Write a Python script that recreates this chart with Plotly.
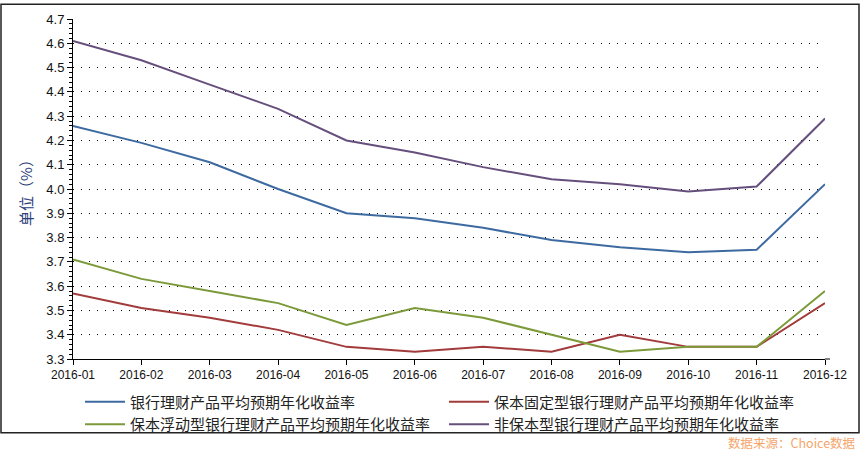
import plotly.graph_objects as go

months = ["2016-01", "2016-02", "2016-03", "2016-04", "2016-05", "2016-06",
          "2016-07", "2016-08", "2016-09", "2016-10", "2016-11", "2016-12"]
bank_avg = [4.26, 4.19, 4.11, 4.00, 3.90, 3.88, 3.84, 3.79, 3.76, 3.74, 3.75, 4.02]
fixed_guar = [3.57, 3.51, 3.47, 3.42, 3.35, 3.33, 3.35, 3.33, 3.40, 3.35, 3.35, 3.53]
float_guar = [3.71, 3.63, 3.58, 3.53, 3.44, 3.51, 3.47, 3.40, 3.33, 3.35, 3.35, 3.58]
non_guar = [4.61, 4.53, 4.43, 4.33, 4.20, 4.15, 4.09, 4.04, 4.02, 3.99, 4.01, 4.29]

names = ["银行理财产品平均预期年化收益率", "保本固定型银行理财产品平均预期年化收益率",
         "保本浮动型银行理财产品平均预期年化收益率", "非保本型银行理财产品平均预期年化收益率"]
colors = ["#3d6aa0", "#a23b3b", "#7c9a3a", "#674f7d"]
series = [bank_avg, fixed_guar, float_guar, non_guar]
legends = ["legend", "legend2", "legend", "legend2"]

W, H = 862, 453
L, R, T, B = 73, 37, 16, 91
pw, ph = W - L - R, H - T - B

fig = go.Figure()
for nm, c, s, lg in zip(names, colors, series, legends):
    fig.add_trace(go.Scatter(x=months, y=s, name=nm, mode="lines",
                             line=dict(color=c, width=2), legend=lg))

def px(x):
    return (x - L) / pw

def py(y):
    return (H - B - y) / ph

legfont = dict(family="Noto Sans CJK SC", size=15, color="#222")
fig.update_layout(
    width=W, height=H,
    margin=dict(l=L, r=R, t=T, b=B),
    paper_bgcolor="white", plot_bgcolor="white",
    font=dict(family="Liberation Sans", size=12, color="#111"),
    legend=dict(x=px(80), y=py(389), xanchor="left", yanchor="top",
                font=legfont, bgcolor="rgba(0,0,0,0)", tracegroupgap=0,
                itemwidth=40, orientation="v"),
    legend2=dict(x=px(444), y=py(389), xanchor="left", yanchor="top",
                 font=legfont, bgcolor="rgba(0,0,0,0)", tracegroupgap=0,
                 itemwidth=40, orientation="v"),
    xaxis=dict(type="category", range=[0, 11], showgrid=False,
               showline=True, linecolor="#000", linewidth=1,
               ticks="outside", ticklen=5, tickcolor="#000",
               tickfont=dict(family="Liberation Sans", size=12, color="#111")),
    yaxis=dict(range=[3.3, 4.7], dtick=0.1, tick0=3.3, tickformat=".1f",
               showline=True, linecolor="#000", linewidth=1,
               ticks="outside", ticklen=5, tickcolor="#000",
               showgrid=True, gridcolor="#000", gridwidth=1, griddash="1px,7px",
               zeroline=False,
               minor=dict(dtick=0.02, ticks="outside", ticklen=3, tickcolor="#000", showgrid=False),
               tickfont=dict(family="Liberation Sans", size=13, color="#111"),
               title=dict(text="单位（%）", font=dict(family="Noto Sans CJK SC", size=15, color="#2b3f7a"),
                          standoff=10)),
    shapes=[
        dict(type="rect", xref="paper", yref="paper", x0=px(1), x1=px(859), y0=py(437), y1=py(1),
             line=dict(color="#222", width=1.5), fillcolor="rgba(0,0,0,0)", layer="below"),
        dict(type="line", xref="paper", yref="paper", x0=1, x1=px(830), y0=0, y1=0,
             line=dict(color="#000", width=1)),
    ],
    annotations=[
        dict(text="数据来源：Choice数据", xref="paper", yref="paper", x=px(857), y=py(447),
             xanchor="right", yanchor="middle", showarrow=False,
             font=dict(family="Noto Sans CJK SC", size=12.5, color="#f5a56c")),
    ],
)

fig.write_html("out.html")
